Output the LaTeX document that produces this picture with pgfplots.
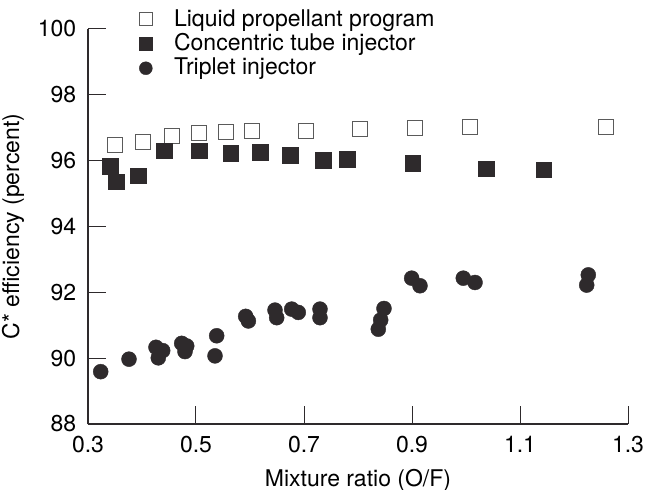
\documentclass[border=0pt]{standalone}
\usepackage{pgfplots}
\pgfplotsset{compat=1.18}
\usepackage{fontspec}
\setmainfont{TeX Gyre Heros}

\definecolor{ink}{HTML}{2E2A2C}
\definecolor{edge}{HTML}{5A5A5A}

\begin{document}
\fontsize{23}{26}\selectfont
\begin{tikzpicture}
\begin{axis}[
    scale only axis,
    width=540pt, height=395pt,
    xmin=0.3, xmax=1.3, ymin=88, ymax=100,
    axis lines=left,
    axis line style={-, line width=1.2pt, color=ink},
    xtick={0.3,0.5,...,1.3}, ytick={88,90,...,100},
    tick align=inside,
    major tick length=18pt,
    tick style={line width=1pt, color=ink},
    /pgf/number format/assume math mode=true,
    /pgf/number format/fixed,
    /pgf/number format/precision=1,
    xticklabel style={/pgf/number format/fixed zerofill, yshift=-4pt},
    yticklabel style={xshift=-4pt},
    tick label style={font=\fontsize{23}{26}\selectfont},
    xlabel={Mixture ratio (O/F)},
    ylabel={C* efficiency (percent)},
    label style={font=\fontsize{23}{26}\selectfont},
    xlabel style={yshift=-1pt},
    ylabel style={yshift=-2pt},
    legend style={draw=none, fill=none, at={(rel axis cs:0.085,1.058)}, anchor=north west,
        font=\fontsize{23}{26}\selectfont, row sep=2pt,
        nodes={inner sep=1pt}},
    legend cell align=left,
    legend image code/.code={
        \draw[#1, mark size=6.5pt] (0.3cm,0cm) -- plot coordinates {(0.3cm,0cm)};
        \path (0cm,0cm) (1.25cm,0cm);},
    clip=false,
]
\addplot[only marks, mark=square, mark size=7.5pt, mark options={draw=edge, fill=white, line width=1pt}] coordinates {
    (0.350,96.48) (0.402,96.58) (0.456,96.76) (0.506,96.83) (0.556,96.86)
    (0.604,96.90) (0.704,96.90) (0.804,96.95) (0.906,96.99) (1.007,97.03)
    (1.259,97.03)
};
\addlegendentry{Liquid propellant program}
\addplot[only marks, mark=square*, mark size=7.8pt, mark options={draw=ink, fill=ink}] coordinates {
    (0.341,95.84) (0.352,95.36) (0.393,95.54) (0.441,96.30) (0.506,96.30)
    (0.564,96.22) (0.619,96.26) (0.674,96.17) (0.735,96.01) (0.780,96.04)
    (0.901,95.92) (1.037,95.75) (1.144,95.72)
};
\addlegendentry{Concentric tube injector}
\addplot[only marks, mark=*, mark size=7.5pt, mark options={draw=ink, fill=ink}] coordinates {
    (0.3235,89.59) (0.3759,89.97) (0.4259,90.33) (0.4383,90.23) (0.4302,90.01)
    (0.4735,90.45) (0.4828,90.37) (0.4796,90.20) (0.5383,90.68) (0.5352,90.07)
    (0.592,91.27) (0.597,91.13) (0.6463,91.46) (0.6494,91.23) (0.6772,91.49)
    (0.6894,91.39) (0.7296,91.49) (0.7296,91.23) (0.8481,91.51) (0.8420,91.16)
    (0.8376,90.88) (0.8994,92.43) (0.9148,92.20) (0.9950,92.43) (1.0167,92.30)
    (1.2265,92.53) (1.2235,92.22)
};
\addlegendentry{Triplet injector}
\end{axis}
\pgfresetboundingbox
\path (current axis.south west) +(-88pt,-66pt);
\path (current axis.north east) +(20pt,29pt);
\end{tikzpicture}
\end{document}
